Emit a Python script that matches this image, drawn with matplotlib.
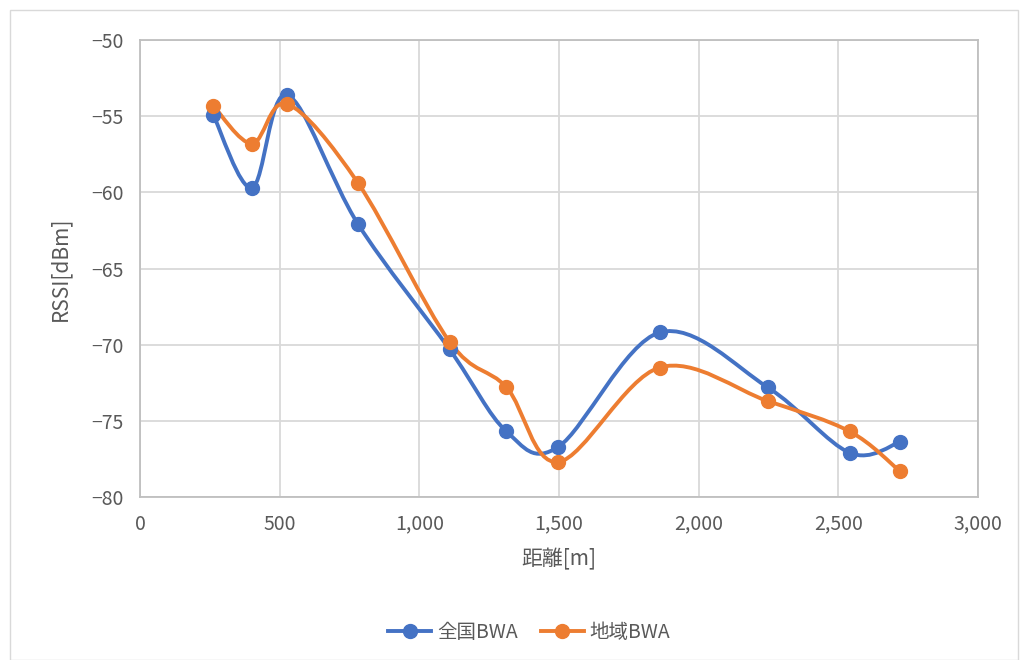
import matplotlib
matplotlib.use("Agg")
import matplotlib.pyplot as plt
import numpy as np
from matplotlib.path import Path
from matplotlib.patches import PathPatch, Rectangle
from matplotlib.lines import Line2D
from matplotlib.ticker import FuncFormatter, MultipleLocator

plt.rcParams['font.family'] = ['Noto Sans CJK JP', 'DejaVu Sans']

distance = [262, 401, 527, 781, 1108, 1312, 1498, 1860, 2247, 2541, 2720]
zenkoku = [-54.9, -59.7, -53.6, -62.1, -70.3, -75.7, -76.7, -69.2, -72.8, -77.1, -76.4]
chiiki = [-54.3, -56.8, -54.2, -59.4, -69.8, -72.8, -77.7, -71.5, -73.7, -75.7, -78.3]
series_names = ['全国BWA', '地域BWA']
colors = ['#4472C4', '#ED7D31']

fig = plt.figure(figsize=(10.28, 6.6), dpi=100)
ax = fig.add_axes([140/1028, 1-497/660, (978-140)/1028, (497-40)/660])

def smooth_path(x, y):
    x = np.asarray(x, float); y = np.asarray(y, float)
    n = len(x)
    verts = [(x[0], y[0])]
    codes = [Path.MOVETO]
    t = 1/6
    for i in range(n-1):
        p0 = np.array([x[max(i-1, 0)], y[max(i-1, 0)]])
        p1 = np.array([x[i], y[i]])
        p2 = np.array([x[i+1], y[i+1]])
        p3 = np.array([x[min(i+2, n-1)], y[min(i+2, n-1)]])
        c1 = p1 + (p2 - p0) * t
        c2 = p2 - (p3 - p1) * t
        verts += [tuple(c1), tuple(c2), tuple(p2)]
        codes += [Path.CURVE4]*3
    return Path(verts, codes)

for vals, c in zip([zenkoku, chiiki], colors):
    ax.add_patch(PathPatch(smooth_path(distance, vals), fill=False, edgecolor=c, lw=2.8, zorder=3, capstyle='round'))
    ax.plot(distance, vals, 'o', color=c, ms=10, zorder=4)

ax.set_xlim(0, 3000)
ax.set_ylim(-80, -50)
ax.xaxis.set_major_locator(MultipleLocator(500))
ax.yaxis.set_major_locator(MultipleLocator(5))
ax.xaxis.set_major_formatter(FuncFormatter(lambda v, p: f"{int(v):,}"))
ax.yaxis.set_major_formatter(FuncFormatter(lambda v, p: f"{int(v)}".replace('-', '\u2212')))
ax.grid(True, color='#D9D9D9', lw=1.3)
ax.set_axisbelow(True)
for s in ax.spines.values():
    s.set_color('#BFBFBF'); s.set_linewidth(1.3)
ax.tick_params(length=0, labelsize=14, colors='#595959', pad=12)
ax.set_xlabel('距離[m]', fontsize=15, color='#595959', labelpad=10)
ax.set_ylabel('RSSI[dBm]', fontsize=15, color='#595959', labelpad=14)

handles = [Line2D([0], [0], color=c, lw=2.8, marker='o', ms=10) for c in colors]
fig.legend(handles, series_names, loc='center', bbox_to_anchor=(0.515, 1-632/660), ncol=2,
           frameon=False, fontsize=14, labelcolor='#595959', handlelength=2.2, columnspacing=1.2, handletextpad=0.3)

fig.add_artist(Rectangle((10/1028, 0), 1008/1028, 1-10/660, transform=fig.transFigure,
                         fill=False, edgecolor='#D9D9D9', lw=1))

fig.savefig('out.png', dpi=100)
